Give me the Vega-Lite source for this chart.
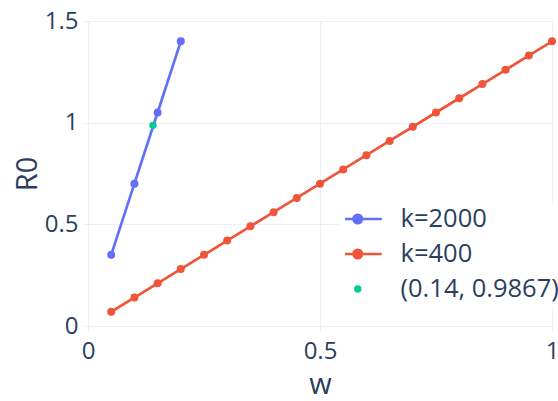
{
  "$schema": "https://vega.github.io/schema/vega-lite/v6.json",
  "autosize": "none",
  "padding": {"left": 88, "top": 21, "right": 6, "bottom": 75},
  "width": 464,
  "height": 305,
  "background": "white",
  "config": {
    "font": "Open Sans",
    "view": {"stroke": null},
    "axis": {
      "domain": false,
      "gridColor": "#ebf0f8",
      "gridWidth": 1,
      "tickColor": "#ebf0f8",
      "tickSize": 6,
      "tickWidth": 1,
      "labelFont": "Open Sans",
      "labelFontSize": 24,
      "labelColor": "#2a3f5f",
      "titleFont": "Open Sans",
      "titleFontSize": 29,
      "titleFontWeight": "normal",
      "titleColor": "#2a3f5f"
    }
  },
  "data": {
    "values": [
      {"series": "k=2000", "w": 0.05, "R0": 0.35},
      {"series": "k=2000", "w": 0.1, "R0": 0.7},
      {"series": "k=2000", "w": 0.15, "R0": 1.05},
      {"series": "k=2000", "w": 0.2, "R0": 1.4},
      {"series": "k=400", "w": 0.05, "R0": 0.07},
      {"series": "k=400", "w": 0.1, "R0": 0.14},
      {"series": "k=400", "w": 0.15, "R0": 0.21},
      {"series": "k=400", "w": 0.2, "R0": 0.28},
      {"series": "k=400", "w": 0.25, "R0": 0.35},
      {"series": "k=400", "w": 0.3, "R0": 0.42},
      {"series": "k=400", "w": 0.35, "R0": 0.49},
      {"series": "k=400", "w": 0.4, "R0": 0.56},
      {"series": "k=400", "w": 0.45, "R0": 0.63},
      {"series": "k=400", "w": 0.5, "R0": 0.7},
      {"series": "k=400", "w": 0.55, "R0": 0.77},
      {"series": "k=400", "w": 0.6, "R0": 0.84},
      {"series": "k=400", "w": 0.65, "R0": 0.91},
      {"series": "k=400", "w": 0.7, "R0": 0.98},
      {"series": "k=400", "w": 0.75, "R0": 1.05},
      {"series": "k=400", "w": 0.8, "R0": 1.12},
      {"series": "k=400", "w": 0.85, "R0": 1.19},
      {"series": "k=400", "w": 0.9, "R0": 1.26},
      {"series": "k=400", "w": 0.95, "R0": 1.33},
      {"series": "k=400", "w": 1.0, "R0": 1.4},
      {"series": "(0.14, 0.9867)", "w": 0.14, "R0": 0.9867}
    ]
  },
  "encoding": {
    "x": {
      "field": "w", "type": "quantitative",
      "scale": {"domain": [0, 1], "nice": false, "zero": false},
      "axis": {"values": [0, 0.5, 1], "format": "~g", "title": "w", "labelPadding": 7, "titlePadding": 7, "labelFlush": false}
    },
    "y": {
      "field": "R0", "type": "quantitative",
      "scale": {"domain": [0, 1.5], "nice": false, "zero": false},
      "axis": {"values": [0, 0.5, 1, 1.5], "format": "~g", "title": "R0", "labelPadding": 4, "titlePadding": 2, "labelFlush": false}
    },
    "color": {
      "field": "series", "type": "nominal",
      "scale": {"domain": ["k=2000", "k=400", "(0.14, 0.9867)"], "range": ["#636efa", "#EF553B", "#00cc96"]},
      "legend": {
        "title": null,
        "orient": "none",
        "legendX": 251,
        "legendY": 182,
        "padding": 6,
        "fillColor": "white",
        "symbolSize": 2304,
        "symbolStrokeWidth": 2.5,
        "clipHeight": 20,
        "rowPadding": 9,
        "labelOffset": 30,
        "labelFont": "Open Sans",
        "labelFontSize": 25.5,
        "labelColor": "#2a3f5f",
        "encode": {
          "symbols": {
            "update": {
              "fill": {"scale": "color", "field": "value"},
              "stroke": {"scale": "color", "field": "value"},
              "opacity": {"value": 1},
              "shape": {"signal": "datum.value === '(0.14, 0.9867)' ? 'circle' : 'M-1,0L1,0M0.18,0A0.18,0.18,0,1,1,-0.18,0A0.18,0.18,0,1,1,0.18,0Z'"},
              "size": {"signal": "datum.value === '(0.14, 0.9867)' ? 55 : 2304"},
              "strokeWidth": {"signal": "datum.value === '(0.14, 0.9867)' ? 0 : 2.5"}
            }
          }
        }
      }
    }
  },
  "layer": [
    {
      "transform": [{"filter": "datum.series !== '(0.14, 0.9867)'"}],
      "mark": {"type": "line", "strokeWidth": 2.7},
      "encoding": {"order": {"field": "w", "type": "quantitative"}}
    },
    {
      "transform": [{"filter": "datum.series !== '(0.14, 0.9867)'"}],
      "mark": {"type": "point", "filled": true, "opacity": 1, "size": 64}
    },
    {
      "transform": [{"filter": "datum.series === '(0.14, 0.9867)'"}],
      "mark": {"type": "point", "filled": true, "opacity": 1, "size": 55}
    }
  ]
}
